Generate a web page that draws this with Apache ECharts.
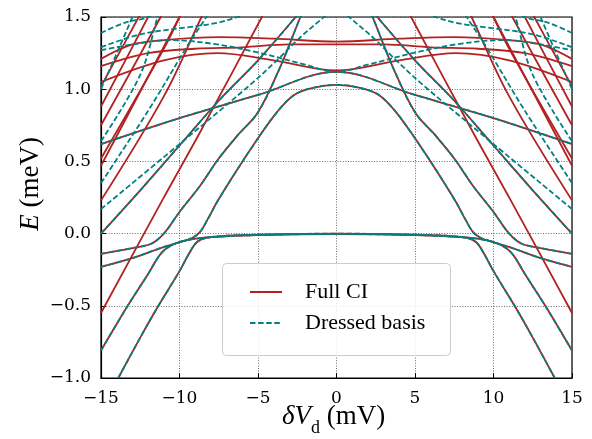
<!DOCTYPE html>
<html><head><meta charset="utf-8">
<script src="https://cdn.jsdelivr.net/npm/echarts@6/dist/echarts.min.js"></script>
<style>html,body{margin:0;padding:0;background:#fff}#c{width:592px;height:439px}</style>
</head><body><div id="c"></div>
<script>
// ---- tick values ----
const xTicks = [-15, -10, -5, 0, 5, 10, 15];
const yTicks = [-1.0, -0.5, 0.0, 0.5, 1.0, 1.5];
const legendNames = ['Full CI', 'Dressed basis'];

// ---- Curves present in both Full CI (red) and Dressed basis (teal) ----
const both_G0 = [[-13.9,-1.0],[-12.5,-0.72],[-11.4,-0.51],[-10.0,-0.26],[-9.4,-0.14],[-8.9,-0.06],[-8.3,-0.03],[-7.0,-0.015],[-4.0,-0.005],[0,0],[4.0,-0.005],[7.0,-0.015],[8.3,-0.03],[8.9,-0.06],[9.4,-0.14],[10.0,-0.26],[11.4,-0.51],[12.5,-0.72],[13.9,-1.0]];
const both_G1 = [[-15,-0.81],[-13.3,-0.5],[-12.0,-0.28],[-11.2,-0.14],[-10.5,-0.08],[-9.5,-0.045],[-8.0,-0.025],[-5.0,-0.01],[0,-0.003],[5.0,-0.01],[8.0,-0.025],[9.5,-0.045],[10.5,-0.08],[11.2,-0.14],[12.0,-0.28],[13.3,-0.5],[15,-0.81]];
const both_P = [[-15,-0.23],[-13,-0.17],[-11.2,-0.1],[-10,-0.06],[-9.2,-0.03],[-8.7,0.01],[-8.2,0.1],[-7.6,0.22],[-6.4,0.43],[-5,0.66],[-3.8,0.84],[-2.7,0.96],[-1.5,1.01],[0,1.03],[1.5,1.01],[2.7,0.96],[3.8,0.84],[5,0.66],[6.4,0.43],[7.6,0.22],[8.2,0.1],[8.7,0.01],[9.2,-0.03],[10,-0.06],[11.2,-0.1],[13,-0.17],[15,-0.23]];
const both_TaL = [[-15,-0.14],[-13,-0.1],[-11.8,-0.07],[-11,0.0],[-10,0.15],[-8.7,0.33],[-7.5,0.52],[-6.3,0.68],[-5,0.84],[-3.6,1.15],[-2.3,1.5],[-2.0,1.57]];
const both_TaR = [[15,-0.14],[13,-0.1],[11.8,-0.07],[11,0.0],[10,0.15],[8.7,0.33],[7.5,0.52],[6.3,0.68],[5,0.84],[3.6,1.15],[2.3,1.5],[2.0,1.57]];
const both_Q = [[-15,0.62],[-10,0.8],[-5,0.96],[0,1.12],[5,0.96],[10,0.8],[15,0.62]];
const both_LaL = [[-15,0.0],[-12.5,0.3],[-10,0.61],[-7.5,0.92],[-5,1.2],[-2.6,1.5],[-2.1,1.57]];
const both_LaR = [[15,0.0],[12.5,0.3],[10,0.61],[7.5,0.92],[5,1.2],[2.6,1.5],[2.1,1.57]];

// ---- Full CI only (red) ----
const ci_R1L = [[-15,-0.55],[-11.1,0.23],[-8.7,0.7],[-4.75,1.5],[-4.4,1.57]];
const ci_R1R = [[15,-0.55],[11.1,0.23],[8.7,0.7],[4.75,1.5],[4.4,1.57]];
const ci_U1 = [[-15,1.21],[-13,1.31],[-11,1.34],[-7.5,1.36],[-4,1.35],[0,1.33],[4,1.35],[7.5,1.36],[11,1.34],[13,1.31],[15,1.21]];
const ci_U2 = [[-15,1.16],[-12,1.25],[-9,1.28],[-6,1.29],[-3,1.31],[0,1.31],[3,1.31],[6,1.29],[9,1.28],[12,1.25],[15,1.16]];
const ci_V = [[-15,1.05],[-11,1.2],[-7.6,1.25],[-4,1.2],[0,1.13],[4,1.2],[7.6,1.25],[11,1.2],[15,1.05]];
const ci_LbL = [[-15,0.23],[-11,0.95],[-8.6,1.5],[-8.3,1.57]];
const ci_LbR = [[15,0.23],[11,0.95],[8.6,1.5],[8.3,1.57]];
const ci_LdL = [[-15,0.47],[-10,1.5],[-9.7,1.57]];
const ci_LdR = [[15,0.47],[10,1.5],[9.7,1.57]];
const ci_LeL = [[-15,0.52],[-11,1.28],[-9.7,1.57]];
const ci_LeR = [[15,0.52],[11,1.28],[9.7,1.57]];
const ci_LgL = [[-15,0.75],[-11.2,1.5],[-10.9,1.57]];
const ci_LgR = [[15,0.75],[11.2,1.5],[10.9,1.57]];
const ci_LjL = [[-15,0.88],[-12,1.5],[-11.7,1.57]];
const ci_LjR = [[15,0.88],[12,1.5],[11.7,1.57]];
const ci_LmL = [[-15,1.02],[-12.6,1.5],[-12.3,1.57]];
const ci_LmR = [[15,1.02],[12.6,1.5],[12.3,1.57]];

// ---- Dressed basis only (teal) ----
const db_V = [[-15,1.27],[-13,1.31],[-10.6,1.34],[-7.6,1.31],[-4.85,1.25],[-2,1.17],[0,1.12],[2,1.17],[4.85,1.25],[7.6,1.31],[10.6,1.34],[13,1.31],[15,1.27]];
const db_LcL = [[-15,0.35],[-12,0.85],[-9.5,1.3],[-8.3,1.5],[-8.0,1.57]];
const db_LcR = [[15,0.35],[12,0.85],[9.5,1.3],[8.3,1.5],[8.0,1.57]];
const db_LfL = [[-15,0.64],[-12.5,1.1],[-11.4,1.5],[-11.2,1.57]];
const db_LfR = [[15,0.64],[12.5,1.1],[11.4,1.5],[11.2,1.57]];
const db_LlL = [[-15,1.0],[-13,1.5],[-12.8,1.57]];
const db_LlR = [[15,1.0],[13,1.5],[12.8,1.57]];
const db_TopL = [[-15,1.39],[-13.5,1.46],[-12,1.5],[-11,1.57]];
const db_TopR = [[15,1.39],[13.5,1.46],[12,1.5],[11,1.57]];
const db_Top2L = [[-15,1.29],[-12.5,1.38],[-9.4,1.43],[-7.6,1.46],[-6.3,1.5],[-5.5,1.53]];
const db_Top2R = [[15,1.29],[12.5,1.38],[9.4,1.43],[7.6,1.46],[6.3,1.5],[5.5,1.53]];
const db_StL = [[-15,0.17],[-10,0.62],[-5.5,1.03],[-3.8,1.2],[-2.3,1.36],[-0.8,1.5],[-0.5,1.53]];
const db_StR = [[15,0.17],[10,0.62],[5.5,1.03],[3.8,1.2],[2.3,1.36],[0.8,1.5],[0.5,1.53]];

const bothCurves = [both_G0, both_G1, both_P, both_TaL, both_TaR, both_Q, both_LaL, both_LaR];
const ciOnly = [ci_R1L, ci_R1R, ci_U1, ci_U2, ci_V, ci_LbL, ci_LbR, ci_LdL, ci_LdR, ci_LeL, ci_LeR, ci_LgL, ci_LgR, ci_LjL, ci_LjR, ci_LmL, ci_LmR];
const dbOnly = [db_V, db_LcL, db_LcR, db_LfL, db_LfR, db_LlL, db_LlR, db_TopL, db_TopR, db_Top2L, db_Top2R, db_StL, db_StR];

const RED = '#b22222', TEAL = '#008080';
const FONT = 'DejaVu Serif';
const LFONT = 'Liberation Serif';
const DASH = [5.5, 2.6];
function mkSeries(data, name, color, dashed) {
  return {
    type: 'line', name: name, data: data, symbol: 'none', smooth: 0.35,
    clip: true, animation: false, silent: true,
    lineStyle: { color: color, width: 1.8, type: dashed ? DASH : 'solid' },
    itemStyle: { color: color }, z: dashed ? 3 : 2
  };
}
const series = [];
[...bothCurves, ...ciOnly].forEach(d => series.push(mkSeries(d, legendNames[0], RED, false)));
[...bothCurves, ...dbOnly].forEach(d => series.push(mkSeries(d, legendNames[1], TEAL, true)));

const fmt = v => (v < 0 ? '\u2212' : '') + Math.abs(v);
const fmtY = v => (v < 0 ? '\u2212' : '') + Math.abs(v).toFixed(1);
const gridLine = { show: true, lineStyle: { color: '#444', width: 0.8, type: [1, 1.6] } };

const chart = echarts.init(document.getElementById('c'), null, { renderer: 'canvas' });
chart.setOption({
  animation: false,
  backgroundColor: '#fff',
  grid: { left: 101, right: 20, top: 17, bottom: 61, show: true, borderColor: '#000', borderWidth: 1.2, backgroundColor: 'transparent' },
  xAxis: {
    type: 'value', min: xTicks[0], max: xTicks[xTicks.length - 1], interval: 5,
    axisLine: { show: true, onZero: false, lineStyle: { color: '#000', width: 1.2 } },
    axisTick: { show: true, inside: true, length: 5, lineStyle: { color: '#000', width: 1 } },
    axisLabel: { formatter: fmt, color: '#000', fontFamily: FONT, fontSize: 17, margin: 12 },
    splitLine: gridLine
  },
  yAxis: {
    type: 'value', min: yTicks[0], max: yTicks[yTicks.length - 1], interval: 0.5,
    axisLine: { show: true, onZero: false, lineStyle: { color: '#000', width: 1.2 } },
    axisTick: { show: true, inside: true, length: 5, lineStyle: { color: '#000', width: 1 } },
    axisLabel: { formatter: fmtY, color: '#000', fontFamily: FONT, fontSize: 17, margin: 10 },
    splitLine: gridLine
  },
  graphic: [
    { type: 'rect', z: 100, shape: { x: 222.5, y: 263.5, width: 228, height: 92, r: 4 }, style: { fill: 'rgba(255,255,255,0.85)', stroke: '#cccccc', lineWidth: 1 } },
    { type: 'line', z: 101, shape: { x1: 250, y1: 292, x2: 282, y2: 292 }, style: { stroke: RED, lineWidth: 2 } },
    { type: 'line', z: 101, shape: { x1: 250, y1: 323, x2: 282, y2: 323 }, style: { stroke: TEAL, lineWidth: 2, lineDash: DASH } },
    { type: 'text', z: 101, x: 305, y: 292, style: { text: legendNames[0], fontFamily: LFONT, fontSize: 22, fill: '#000', verticalAlign: 'middle', align: 'left' } },
    { type: 'text', z: 101, x: 305, y: 323, style: { text: legendNames[1], fontFamily: LFONT, fontSize: 22, fill: '#000', verticalAlign: 'middle', align: 'left' } },
    { type: 'text', left: 17, top: 137, rotation: Math.PI / 2, style: { text: '{i|E} (meV)', rich: { i: { fontStyle: 'italic', fontFamily: LFONT, fontSize: 27 } }, fontFamily: LFONT, fontSize: 27, fill: '#000' }, originX: 0, originY: 0 },
    { type: 'text', left: 282, top: 403, style: { text: '{i|δV}{s|d} (mV)', rich: { i: { fontStyle: 'italic', fontFamily: LFONT, fontSize: 27, verticalAlign: 'bottom' }, s: { fontFamily: LFONT, fontSize: 18, verticalAlign: 'bottom', padding: [0, 0, -7, 0] } }, fontFamily: LFONT, fontSize: 27, fill: '#000' } }
  ],
  series: series
});
</script></body></html>
